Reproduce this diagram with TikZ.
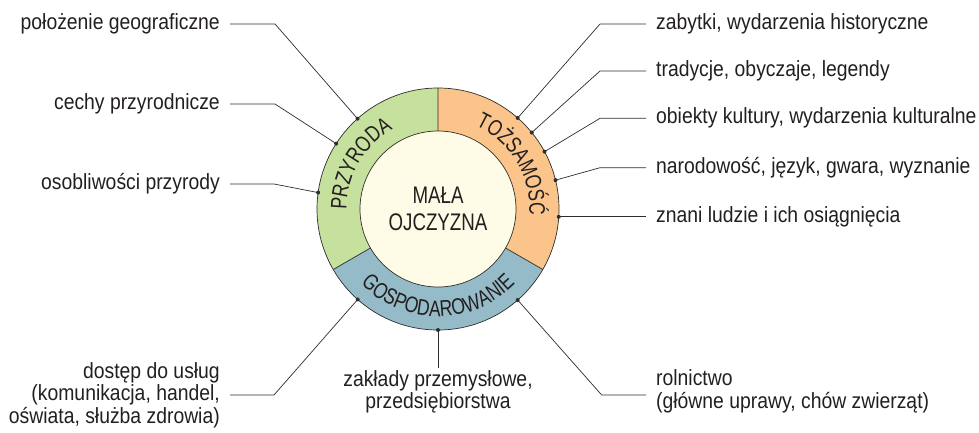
\documentclass[tikz,border=0pt]{standalone}
\usepackage{fontspec}
\setmainfont{Liberation Sans}
\newfontfamily\labfont[FakeStretch=0.88]{Liberation Sans}
\newfontfamily\capfont[FakeStretch=0.78]{Liberation Sans}
\usetikzlibrary{decorations.text}
\definecolor{przyroda}{RGB}{198,224,158}
\definecolor{tozsamosc}{RGB}{251,196,138}
\definecolor{gospod}{RGB}{150,187,200}
\definecolor{srodek}{RGB}{254,251,230}
\definecolor{linia}{RGB}{45,45,45}
\definecolor{tekst}{RGB}{35,31,32}
\begin{document}
\begin{tikzpicture}[x=1pt,y=1pt,
    lab/.style={font=\labfont\fontsize{22}{22.5}\selectfont, text=tekst,
      inner xsep=10pt, inner ysep=0pt},
    pin/.style={line width=0.7pt, draw=linia},
    ringtext/.style={decorate, decoration={text along path, text align=center,
      text color=tekst, text={|\capfont\fontsize{22.5}{22.5}\selectfont|#1}}}]
  \useasboundingbox (0,0) rectangle (979,432);
  % pierscien
  \begin{scope}[shift={(438,223)}]
    \fill[przyroda]
      (90:121) arc[start angle=90,end angle=210,radius=121]
      -- (210:78) arc[start angle=210,end angle=90,radius=78] -- cycle;
    \fill[gospod]
      (210:121) arc[start angle=210,end angle=330,radius=121]
      -- (330:78) arc[start angle=330,end angle=210,radius=78] -- cycle;
    \fill[tozsamosc]
      (-30:121) arc[start angle=-30,end angle=90,radius=121]
      -- (90:78) arc[start angle=90,end angle=-30,radius=78] -- cycle;
    \draw[pin] (0,0) circle (121);
    \draw[pin] (90:78) -- (90:121) (210:78) -- (210:121) (330:78) -- (330:121);
    \filldraw[fill=srodek, draw=linia, line width=0.7pt] (0,0) circle (78);
    \node[align=center, text=tekst, font=\capfont\fontsize{24}{27}\selectfont]
      (mo) at (0,0) {MAŁA\\OJCZYZNA};
    \path[ringtext=PRZYRODA] (190:91.5) arc[start angle=190,end angle=110,radius=91.5];
    \path[ringtext=TOŻSAMOŚĆ] (71:91.5) arc[start angle=71,end angle=-9,radius=91.5];
    \path[ringtext=GOSPODAROWANIE] (210:107.5) arc[start angle=210,end angle=330,radius=107.5];
    % punkty na obwodzie
    \coordinate (d1) at (131.7:121);
    \coordinate (d2) at (147.3:121);
    \coordinate (d3) at (172.2:121);
    \coordinate (d4) at (48.8:121);
    \coordinate (d5) at (39.2:121);
    \coordinate (d6) at (28.3:121);
    \coordinate (d7) at (13.8:121);
    \coordinate (d8) at (-3.7:121);
    \coordinate (d9) at (228.4:121);
    \coordinate (d10) at (270:121);
    \coordinate (d11) at (311.2:121);
  \end{scope}
  % opisy
  \node[lab, anchor=east] (p1) at (230,408) {położenie geograficzne};
  \node[lab, anchor=east] (p2) at (230,328) {cechy przyrodnicze};
  \node[lab, anchor=east] (p3) at (230,248) {osobliwości przyrody};
  \node[lab, anchor=west] (p4) at (646,408) {zabytki, wydarzenia historyczne};
  \node[lab, anchor=west] (p5) at (646,361) {tradycje, obyczaje, legendy};
  \node[lab, anchor=west] (p6) at (646,313.7) {obiekty kultury, wydarzenia kulturalne};
  \node[lab, anchor=west] (p7) at (646,264.3) {narodowość, język, gwara, wyznanie};
  \node[lab, anchor=west] (p8) at (646,215.2) {znani ludzie i ich osiągnięcia};
  \node[lab, anchor=east, align=right] (p9) at (230,37)
    {dostęp do usług\\(komunikacja, handel,\\oświata, służba zdrowia)};
  \node[lab, anchor=north, align=center, inner ysep=2pt] (p10) at (438,64)
    {zakłady przemysłowe,\\przedsiębiorstwa};
  \node[lab, anchor=west, align=left] (p11) at (646,40.5)
    {rolnictwo\\(główne uprawy, chów zwierząt)};
  % linie
  \draw[pin] (p1.east) -- ++(45,0) -- (d1);
  \draw[pin] (p2.east) -- ++(45,0) -- (d2);
  \draw[pin] (p3.east) -- ++(44,0) -- (d3);
  \draw[pin] (p4.west) -- ++(-46,0) -- (d4);
  \draw[pin] (p5.west) -- ++(-46,0) -- (d5);
  \draw[pin] (p6.west) -- ++(-46,0) -- (d6);
  \draw[pin] (p7.west) -- ++(-46,0) -- (d7);
  \draw[pin] (d8) -- (d8 -| p8.west);
  \draw[pin] (p9.east) -- ++(44,0) -- (d9);
  \draw[pin] (d10) -- (p10.north);
  \draw[pin] (d11) -- ++(84,-95) coordinate (k11) -- (k11 -| p11.west);
  \foreach \i in {1,...,11}
    \fill[linia] (d\i) circle (2);
\end{tikzpicture}
\end{document}
